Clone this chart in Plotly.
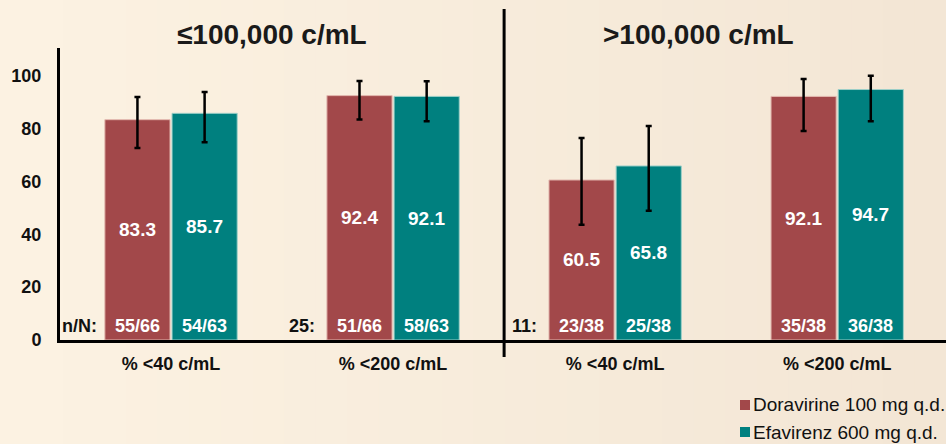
import plotly.graph_objects as go

# Response rates by baseline viral load stratum
categories = ["% <40 c/mL", "% <200 c/mL", "% <40 c/mL", "% <200 c/mL"]
strata = ["≤100,000 c/mL", ">100,000 c/mL"]

dor_name = "Doravirine 100 mg q.d."
efv_name = "Efavirenz 600 mg q.d."

dor_pct = [83.3, 92.4, 60.5, 92.1]
efv_pct = [85.7, 92.1, 65.8, 94.7]

dor_ci_low = [72.6, 83.4, 43.6, 79.0]
dor_ci_high = [91.9, 97.9, 76.4, 98.7]
efv_ci_low = [74.8, 82.7, 48.9, 82.7]
efv_ci_high = [93.8, 97.8, 80.9, 99.9]

dor_nN = ["55/66", "51/66", "23/38", "35/38"]
efv_nN = ["54/63", "58/63", "25/38", "36/38"]
row_labels = ["n/N:", "25:", "11:", ""]

# Styling
FONT = "Liberation Sans, Arial, sans-serif"
DOR_COLOR = "#A2484A"
EFV_COLOR = "#00807F"
BARGAP = 0.395
x_pos = list(range(len(categories)))
bar_off = (1 - BARGAP) / 4

# Plot-area geometry (pixels) used for paper-coordinate conversions
FIG_W, FIG_H = 946, 444
M_L, M_R, M_T, M_B = 60, 0, 48, 104
PW = FIG_W - M_L - M_R
PH = FIG_H - M_T - M_B


def px_x(px):
    return (px - M_L) / PW


def px_y(py):
    return (FIG_H - M_B - py) / PH


fig = go.Figure()

fig.add_trace(go.Bar(
    x=x_pos, y=dor_pct, name=dor_name,
    marker=dict(color=DOR_COLOR, line=dict(color="#E3B9B0", width=1)),
    error_y=dict(type="data", symmetric=False,
                 array=[h - v for h, v in zip(dor_ci_high, dor_pct)],
                 arrayminus=[v - l for v, l in zip(dor_pct, dor_ci_low)],
                 color="black", thickness=2.5, width=3),
    hoverinfo="skip",
))
fig.add_trace(go.Bar(
    x=x_pos, y=efv_pct, name=efv_name,
    marker=dict(color=EFV_COLOR, line=dict(color="#9CCFC8", width=1)),
    error_y=dict(type="data", symmetric=False,
                 array=[h - v for h, v in zip(efv_ci_high, efv_pct)],
                 arrayminus=[v - l for v, l in zip(efv_pct, efv_ci_low)],
                 color="black", thickness=2.5, width=3),
    hoverinfo="skip",
))

# Soft left-to-right background shading
n_strips = 30
c0 = (252, 242, 226)
c1 = (243, 230, 213)
for k in range(n_strips):
    t = k / (n_strips - 1)
    col = tuple(round(a + (b - a) * t) for a, b in zip(c0, c1))
    xa = px_x(FIG_W * k / n_strips)
    xb = px_x(FIG_W * (k + 1) / n_strips + 1)
    fig.add_shape(type="rect", xref="paper", yref="paper",
                  x0=xa, x1=xb, y0=px_y(FIG_H), y1=px_y(0),
                  fillcolor="rgb(%d,%d,%d)" % col, line_width=0, layer="below")

# Divider between the two strata
fig.add_shape(type="line", xref="x", yref="paper", x0=1.5, x1=1.5,
              y0=px_y(357), y1=px_y(9), line=dict(color="black", width=3))

annotations = []
# Stratum headings
for s, xc in zip(strata, [0.453, 2.376]):
    annotations.append(dict(x=xc, y=px_y(34), xref="x", yref="paper", text=s,
                            showarrow=False, xanchor="center", yanchor="middle",
                            font=dict(family=FONT, size=28, color="#1a1a1a", weight="bold")))

for i in x_pos:
    # Percent labels inside bars
    for off, v in ((-bar_off, dor_pct[i]), (bar_off, efv_pct[i])):
        annotations.append(dict(x=i + off, y=v / 2, xref="x", yref="y", text=f"{v:.1f}",
                                showarrow=False,
                                font=dict(family=FONT, size=19, color="white", weight="bold")))
    # n/N labels at the bar base
    for off, t in ((-bar_off, dor_nN[i]), (bar_off, efv_nN[i])):
        annotations.append(dict(x=i + off, y=5.3, xref="x", yref="y", text=t,
                                showarrow=False,
                                font=dict(family=FONT, size=18, color="white", weight="bold")))
    if row_labels[i]:
        annotations.append(dict(x=i - 0.41, y=5.3, xref="x", yref="y", text=row_labels[i],
                                showarrow=False,
                                font=dict(family=FONT, size=18, color="#111111", weight="bold")))

# Key in the lower-right corner
for row, (name, color) in enumerate(((dor_name, DOR_COLOR), (efv_name, EFV_COLOR))):
    cy = 405 + 27 * row
    fig.add_shape(type="rect", xref="paper", yref="paper",
                  x0=px_x(740), x1=px_x(750), y0=px_y(cy + 5), y1=px_y(cy - 5),
                  fillcolor=color, line_width=0)
    annotations.append(dict(x=px_x(751), y=px_y(cy), xref="paper", yref="paper",
                            text=name, showarrow=False, xanchor="left", yanchor="middle",
                            font=dict(family=FONT, size=19, color="#111111")))

fig.update_layout(
    width=FIG_W, height=FIG_H,
    margin=dict(l=M_L, r=M_R, t=M_T, b=M_B),
    paper_bgcolor="#F8EDDD",
    plot_bgcolor="rgba(0,0,0,0)",
    barmode="group", bargap=BARGAP, bargroupgap=0.03,
    font=dict(family=FONT, color="#111111"),
    annotations=annotations,
    showlegend=False,
)

fig.update_xaxes(
    range=[-0.5, 3.49], tickvals=x_pos, ticktext=categories,
    showline=True, linecolor="black", linewidth=3, showgrid=False, zeroline=False,
    ticks="", ticklabelstandoff=5, automargin=False,
    tickfont=dict(family=FONT, size=18, color="#111111", weight="bold"),
    fixedrange=True,
)
fig.update_yaxes(
    range=[0, 110.4], tickvals=[0, 20, 40, 60, 80, 100],
    showline=True, linecolor="black", linewidth=3, showgrid=False, zeroline=False,
    ticks="", ticklabelstandoff=12, automargin=False,
    tickfont=dict(family=FONT, size=18, color="#111111", weight="bold"),
    fixedrange=True,
)

fig.write_html("out.html", config={"displayModeBar": False})
